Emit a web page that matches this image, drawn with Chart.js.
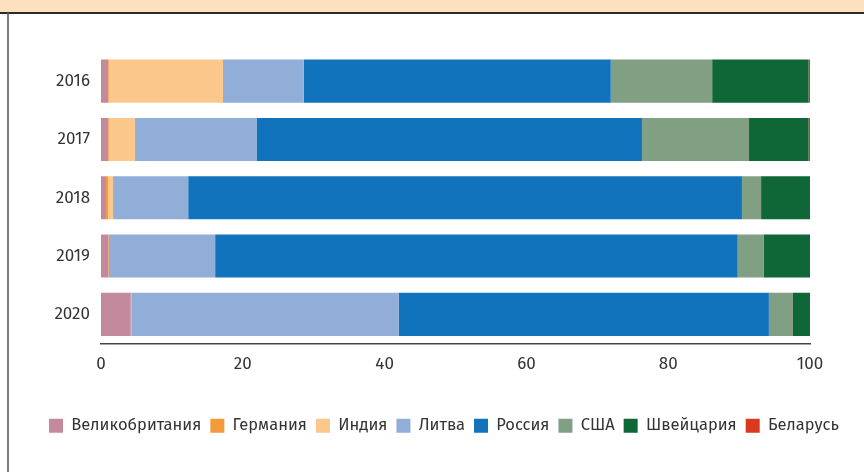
<!DOCTYPE html>
<html>
<head>
<meta charset="utf-8">
<script src="https://cdn.jsdelivr.net/npm/chart.js@4"></script>
<style>
  html, body { margin: 0; padding: 0; background: #fff; }
  #wrap { width: 864px; height: 472px; }
</style>
</head>
<body>
<div id="wrap"><canvas id="chart" width="864" height="472"></canvas></div>
<script>
// categories (years)
const years = ['2016', '2017', '2018', '2019', '2020'];

// share of each country, %
const uk          = [1.0, 1.0, 0.7, 1.0, 4.2];
const germany     = [0.1, 0.1, 0.3, 0.1, 0.1];
const india       = [16.1, 3.7, 0.7, 0.0, 0.0];
const lithuania   = [11.4, 17.2, 10.6, 15.0, 37.7];
const russia      = [43.3, 54.3, 78.1, 73.7, 52.2];
const usa         = [14.3, 15.1, 2.7, 3.7, 3.4];
const switzerland = [13.6, 8.4, 6.9, 6.5, 2.4];
const belarus     = [0.2, 0.2, 0.0, 0.0, 0.0];

const seriesNames = ['Великобритания', 'Германия', 'Индия', 'Литва', 'Россия', 'США', 'Швейцария', 'Беларусь'];
const seriesValues = [uk, germany, india, lithuania, russia, usa, switzerland, belarus];
const seriesColors = ['#c3899c', '#f59a3a', '#fcc78a', '#90aed8', '#1073bb', '#809f83', '#0f6637', '#d93a1f'];

const xTicks = [0, 20, 40, 60, 80, 100];

const fontFamily = '"Fira Sans", "Noto Sans", "Open Sans", sans-serif';

// beige band on top and the thin frame line on the left
const framePlugin = {
    id: 'frame',
    beforeDraw(chart) {
        const ctx = chart.ctx;
        ctx.save();
        ctx.fillStyle = '#fde0bf';
        ctx.fillRect(0, 0, chart.width, 12);
        ctx.strokeStyle = '#2b2b2b';
        ctx.lineWidth = 2;
        ctx.beginPath();
        ctx.moveTo(0, 13);
        ctx.lineTo(chart.width, 13);
        ctx.stroke();
        ctx.strokeStyle = '#555';
        ctx.lineWidth = 1.5;
        ctx.beginPath();
        ctx.moveTo(8, 12);
        ctx.lineTo(8, chart.height);
        ctx.stroke();
        ctx.restore();
    }
};

const datasets = seriesNames.map((name, i) => ({
    label: name,
    data: seriesValues[i],
    backgroundColor: seriesColors[i],
    borderWidth: 0,
    categoryPercentage: 1,
    barPercentage: 0.74
}));

new Chart(document.getElementById('chart'), {
    type: 'bar',
    data: { labels: years, datasets: datasets },
    plugins: [framePlugin],
    options: {
        indexAxis: 'y',
        responsive: false,
        animation: false,
        layout: { padding: { top: 52, right: 0, bottom: 28, left: 24 } },
        plugins: {
            tooltip: { enabled: false },
            legend: {
                position: 'bottom',
                labels: {
                    boxWidth: 14,
                    boxHeight: 14,
                    padding: 9,
                    color: '#333',
                    font: { family: fontFamily, size: 16.5 }
                }
            }
        },
        scales: {
            x: {
                stacked: true,
                min: 0,
                max: 100,
                afterBuildTicks(scale) {
                    scale.ticks = xTicks.map(v => ({ value: v }));
                },
                afterFit(scale) { scale.height = 65; },
                grid: { display: false, drawTicks: false },
                border: { display: true, color: '#444', width: 1.5 },
                ticks: {
                    padding: 11,
                    color: '#333',
                    font: { family: fontFamily, size: 17 }
                }
            },
            y: {
                stacked: true,
                afterFit(scale) { scale.width = 77; },
                grid: { display: false, drawTicks: false },
                border: { display: false },
                ticks: {
                    padding: 11,
                    color: '#333',
                    font: { family: fontFamily, size: 17 }
                }
            },
            // empty spacer on the right so the bars stop short of the frame
            yRight: {
                type: 'category',
                position: 'right',
                afterFit(scale) { scale.width = 54; },
                grid: { display: false, drawTicks: false },
                border: { display: false },
                ticks: { display: false }
            }
        }
    }
});
</script>
</body>
</html>
